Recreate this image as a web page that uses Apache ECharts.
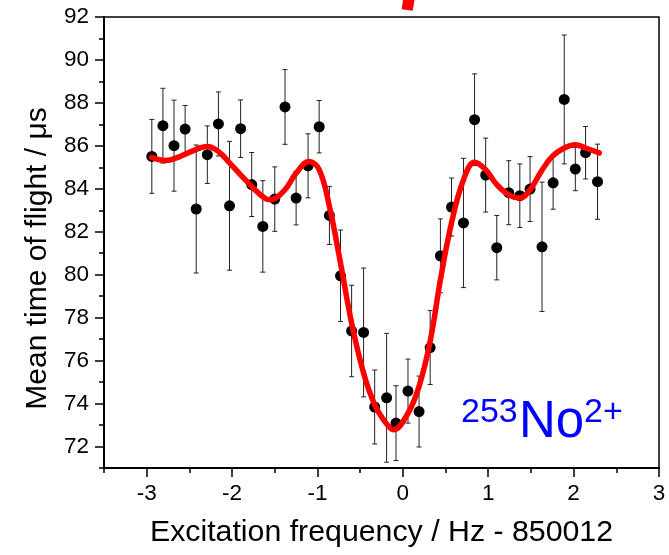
<!DOCTYPE html>
<html>
<head>
<meta charset="utf-8">
<script src="https://cdn.jsdelivr.net/npm/echarts@6/dist/echarts.min.js"></script>
<style>
  html, body { margin: 0; padding: 0; background: #fff; }
  #chart { width: 669px; height: 555px; }
</style>
</head>
<body>
<div id="chart"></div>
<script>
// Measured data points (frequency offset / Hz, mean TOF / µs, error / µs)
const freq = [-2.94, -2.81, -2.68, -2.55, -2.42, -2.29, -2.16, -2.03, -1.90, -1.77, -1.64,
  -1.50, -1.38, -1.25, -1.11, -0.98, -0.86, -0.73, -0.60, -0.46, -0.33, -0.19, -0.08,
  0.06, 0.19, 0.32, 0.44, 0.57, 0.71, 0.84, 0.97, 1.10, 1.24, 1.37, 1.49, 1.63, 1.76,
  1.89, 2.02, 2.14, 2.28];
const tof = [85.51, 86.94, 86.01, 86.78, 83.06, 85.59, 87.02, 83.21, 86.80, 84.20, 82.25,
  83.52, 87.81, 83.57, 85.07, 86.89, 82.76, 79.95, 77.38, 77.31, 73.84, 74.27, 73.09,
  74.58, 73.63, 76.61, 80.88, 83.15, 82.41, 87.22, 84.64, 81.26, 83.82, 83.68, 83.99,
  81.30, 84.28, 88.16, 84.92, 85.68, 84.33];
const tofErr = [1.72, 1.74, 2.12, 1.10, 2.98, 1.34, 1.49, 3.00, 1.34, 1.49, 2.13,
  1.50, 1.74, 1.25, 1.49, 1.22, 1.35, 2.13, 2.13, 3.00, 1.72, 3.00, 1.74,
  1.49, 1.65, 1.72, 1.72, 1.35, 3.01, 2.13, 1.72, 1.50, 1.49, 1.48, 1.51,
  3.01, 1.23, 3.00, 1.01, 1.22, 1.75];

// Fitted resonance curve
const fitX = [-2.94, -2.78, -2.62, -2.46, -2.29, -2.16, -2.03, -1.90, -1.77, -1.62, -1.55,
  -1.38, -1.25, -1.10, -0.98, -0.86, -0.73, -0.60, -0.46, -0.33, -0.20, -0.11, 0.06,
  0.19, 0.32, 0.44, 0.57, 0.71, 0.84, 0.97, 1.10, 1.24, 1.37, 1.49, 1.62, 1.75, 1.89,
  2.02, 2.14, 2.30];
const fitY = [85.46, 85.32, 85.49, 85.77, 85.97, 85.74, 85.21, 84.65, 84.11, 83.57, 83.49,
  83.96, 84.73, 85.27, 84.89, 83.18, 80.54, 77.75, 75.42, 73.95, 73.10, 72.78, 73.55,
  74.80, 76.90, 79.76, 82.41, 84.42, 85.24, 84.89, 84.19, 83.72, 83.57, 83.96, 84.81,
  85.51, 85.90, 86.05, 85.90, 85.67];

// Axis ticks
const xMajorTicks = [-3, -2, -1, 0, 1, 2, 3];
const xMinorTicks = [-3.5, -2.5, -1.5, -0.5, 0.5, 1.5, 2.5];
const yMajorTicks = [72, 74, 76, 78, 80, 82, 84, 86, 88, 90, 92];
const yMinorTicks = [71, 73, 75, 77, 79, 81, 83, 85, 87, 89, 91];

const FONT = '"Liberation Sans", Arial, sans-serif';

const points = freq.map((f, i) => [f, tof[i], tofErr[i]]);
const fit = fitX.map((x, i) => [x, fitY[i]]);

const chart = echarts.init(document.getElementById('chart'), null, { renderer: 'canvas' });

chart.setOption({
  animation: false,
  backgroundColor: '#fff',
  grid: {
    left: 104, right: 10, top: 17, bottom: 87,
    show: true, borderColor: '#000', borderWidth: 1.5, backgroundColor: 'transparent'
  },
  xAxis: [
    {
      type: 'value', min: -3.5, max: 3,
      name: 'Excitation frequency / Hz - 850012',
      nameLocation: 'middle', nameGap: 50,
      nameTextStyle: { fontFamily: FONT, fontSize: 30.3, color: '#000' },
      axisLine: { show: true, onZero: false, lineStyle: { color: '#000', width: 2 } },
      axisTick: { show: true, inside: false, length: 9, customValues: xMajorTicks, lineStyle: { color: '#000', width: 1.5 } },
      axisLabel: { show: true, customValues: xMajorTicks, margin: 14, fontFamily: FONT, fontSize: 22.5, color: '#000' },
      splitLine: { show: false }
    },
    {
      type: 'value', min: -3.5, max: 3, position: 'bottom',
      axisLine: { show: false, onZero: false },
      axisTick: { show: true, inside: false, length: 5, customValues: xMinorTicks, lineStyle: { color: '#000', width: 1.5 } },
      axisLabel: { show: false },
      splitLine: { show: false }
    }
  ],
  yAxis: [
    {
      type: 'value', min: 71, max: 92,
      name: 'Mean time of flight / \u03bcs',
      nameLocation: 'middle', nameGap: 50,
      nameTextStyle: { fontFamily: FONT, fontSize: 30, color: '#000', padding: [0, 32, 0, 0] },
      axisLine: { show: true, onZero: false, lineStyle: { color: '#000', width: 2 } },
      axisTick: { show: true, inside: false, length: 9, customValues: yMajorTicks, lineStyle: { color: '#000', width: 1.5 } },
      axisLabel: { show: true, customValues: yMajorTicks, margin: 15, fontFamily: FONT, fontSize: 22.5, color: '#000' },
      splitLine: { show: false }
    },
    {
      type: 'value', min: 71, max: 92, position: 'left',
      axisLine: { show: false, onZero: false },
      axisTick: { show: true, inside: false, length: 5, customValues: yMinorTicks, lineStyle: { color: '#000', width: 1.5 } },
      axisLabel: { show: false },
      splitLine: { show: false }
    }
  ],
  series: [
    {
      type: 'custom',
      name: 'errors',
      xAxisIndex: 0, yAxisIndex: 0,
      data: points,
      encode: { x: 0, y: 1 },
      z: 2,
      renderItem: function (params, api) {
        const x = api.value(0), y = api.value(1), e = api.value(2);
        const top = api.coord([x, y + e]);
        const bot = api.coord([x, y - e]);
        const cap = 2.5;
        const style = { stroke: '#222', lineWidth: 1 };
        return {
          type: 'group',
          children: [
            { type: 'line', shape: { x1: top[0], y1: top[1], x2: bot[0], y2: bot[1] }, style: style },
            { type: 'line', shape: { x1: top[0] - cap, y1: top[1], x2: top[0] + cap, y2: top[1] }, style: style },
            { type: 'line', shape: { x1: bot[0] - cap, y1: bot[1], x2: bot[0] + cap, y2: bot[1] }, style: style }
          ]
        };
      }
    },
    {
      type: 'scatter',
      name: 'data',
      xAxisIndex: 0, yAxisIndex: 0,
      data: points.map(p => [p[0], p[1]]),
      symbol: 'circle', symbolSize: 11,
      itemStyle: { color: '#000', opacity: 1 },
      z: 3
    },
    {
      type: 'line',
      name: 'fit',
      xAxisIndex: 0, yAxisIndex: 0,
      data: fit,
      smooth: 0.4,
      showSymbol: false, symbol: 'none',
      lineStyle: { color: '#ff0000', width: 5.5, cap: 'round', join: 'round' },
      z: 4
    }
  ],
  graphic: [
    {
      type: 'polygon',
      shape: { points: [[403, 0], [414.5, 0], [412.7, 10.7], [401.7, 9.3]] },
      style: { fill: '#ff0000' }
    },
    {
      type: 'text', left: 461, top: 396,
      style: { text: '253', fill: '#0000ff', font: '34px "Liberation Sans", Arial, sans-serif' }
    },
    {
      type: 'text', left: 519, top: 397,
      style: { text: 'No', fill: '#0000ff', font: '51px "Liberation Sans", Arial, sans-serif' }
    },
    {
      type: 'text', left: 584, top: 396,
      style: { text: '2+', fill: '#0000ff', font: '34px "Liberation Sans", Arial, sans-serif' }
    }
  ]
});
</script>
</body>
</html>
